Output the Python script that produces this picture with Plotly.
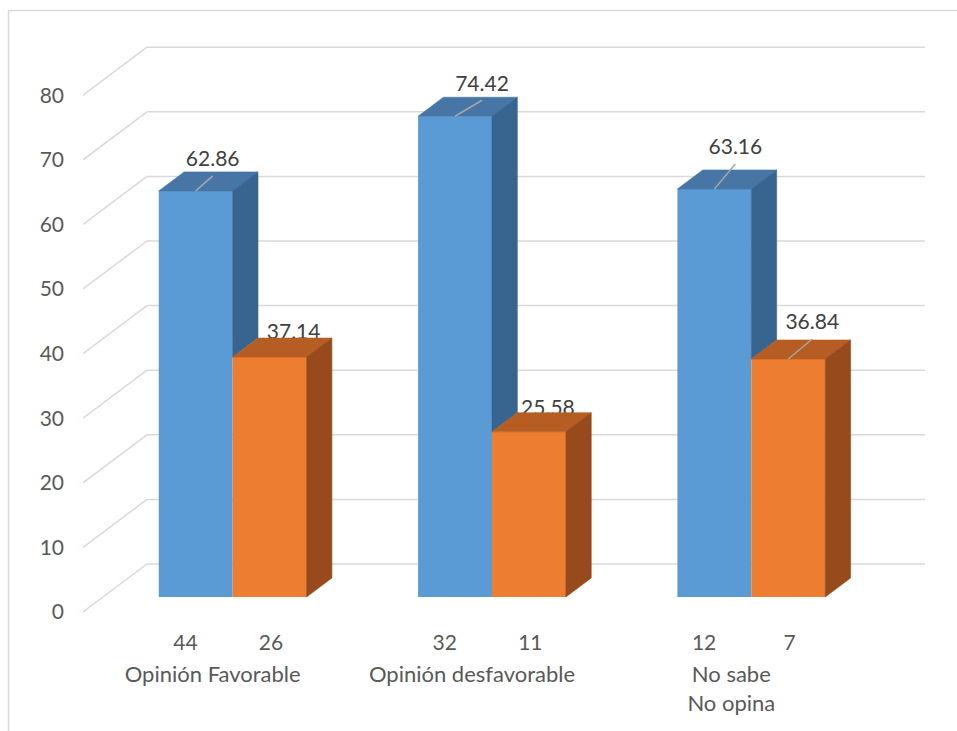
import plotly.graph_objects as go

# ---- data -------------------------------------------------------------
categories = ["Opinión Favorable", "Opinión desfavorable", "No sabe<br>No opina"]
pct_blue = [62.86, 74.42, 63.16]
pct_orange = [37.14, 25.58, 36.84]
count_blue = [44, 32, 12]
count_orange = [26, 11, 7]
y_ticks = [0, 10, 20, 30, 40, 50, 60, 70, 80]

# ---- canvas / oblique projection settings ------------------------------
W, H = 957, 731
ML, MB = 83, 111                 # left / bottom margins (px)
PX_PER_CAT = 259.33              # px per category slot
PX_PER_VAL = 6.46                # px per value unit
ZERO_PX = 612                    # pixel row of value 0 on the front plane
X_LEFT = -0.5                    # x value at the left edge of the plot area
X_RANGE = [X_LEFT, X_LEFT + (W - ML) / PX_PER_CAT]
Y_RANGE = [-(H - MB - ZERO_PX) / PX_PER_VAL, ZERO_PX / PX_PER_VAL]

KX = 1.333 / PX_PER_CAT          # x shift per unit of depth
KY = 1.0 / PX_PER_VAL            # y shift per unit of depth
D_FRONT, D_BACK, D_WALL = 15, 34, 48
BAR_W = 0.285

BLUE = dict(front="#5B9BD5", top="#4675A6", side="#38658F")
ORANGE = dict(front="#ED7D31", top="#B55D22", side="#974A1C")
GRID = "#D9D9D9"
AXIS_TXT = "#595959"
LABEL_TXT = "#404040"
FONT = "Lato"

# label placement (px right / px up from the top-front edge centre)
LABEL_SHIFT_BLUE = [(17, 30), (27, 31), (21, 40)]
LABEL_SHIFT_ORANGE = [(24, 23), (19, 22), (24, 35)]
LEADER_GAP = 15                  # px between label centre and leader end


def proj(xw, v, d):
    return xw + d * KX, v + d * KY


fig = go.Figure()

# front faces of the columns
for vals, col, side in ((pct_blue, BLUE, -1), (pct_orange, ORANGE, 1)):
    xs = [i + side * BAR_W / 2 + D_FRONT * KX for i in range(len(vals))]
    fig.add_trace(go.Bar(
        x=xs, y=vals, base=D_FRONT * KY, width=BAR_W,
        marker=dict(color=col["front"], line=dict(width=0)),
        hoverinfo="skip", showlegend=False,
    ))

# data labels (drawn before the 3D faces so the tops may overlap them)
label_pts = []
for vals, shifts, side in ((pct_blue, LABEL_SHIFT_BLUE, -1),
                           (pct_orange, LABEL_SHIFT_ORANGE, 1)):
    for i, v in enumerate(vals):
        cx, cy = proj(i + side * BAR_W / 2, v, D_FRONT)
        sx, sy = shifts[i]
        lx, ly = cx + sx / PX_PER_CAT, cy + sy / PX_PER_VAL
        label_pts.append((cx, cy, lx, ly, sy, f"{v:.2f}"))

fig.add_trace(go.Scatter(
    x=[p[2] for p in label_pts], y=[p[3] for p in label_pts],
    text=[p[5] for p in label_pts], mode="text", textposition="middle center",
    textfont=dict(family=FONT, size=21, color=LABEL_TXT),
    hoverinfo="skip", showlegend=False,
))


def poly(pts, color):
    xs = [p[0] for p in pts] + [pts[0][0]]
    ys = [p[1] for p in pts] + [pts[0][1]]
    fig.add_trace(go.Scatter(
        x=xs, y=ys, mode="lines", fill="toself", fillcolor=color,
        line=dict(color=color, width=0.6), hoverinfo="skip", showlegend=False,
    ))


# top and side faces
for i in range(len(categories)):
    pairs = ((pct_blue[i], BLUE, -BAR_W), (pct_orange[i], ORANGE, 0.0))
    for k, (v, col, x0) in enumerate(pairs):
        xl = i + x0
        xr = xl + BAR_W
        # top face
        poly([proj(xl, v, D_FRONT), proj(xr, v, D_FRONT),
              proj(xr, v, D_BACK), proj(xl, v, D_BACK)], col["top"])
        # right side face (the part hidden by the neighbouring column is cut)
        bottom = 0.0 if k == 1 else min(pct_orange[i], v)
        poly([proj(xr, v, D_FRONT), proj(xr, v, D_BACK),
              proj(xr, bottom, D_BACK), proj(xr, bottom, D_FRONT)], col["side"])

# leader lines
for cx, cy, lx, ly, sy, _ in label_pts:
    if sy >= 28:
        fig.add_trace(go.Scatter(
            x=[cx, lx], y=[cy, ly - LEADER_GAP / PX_PER_VAL], mode="lines",
            line=dict(color="#A6A6A6", width=1.5),
            hoverinfo="skip", showlegend=False,
        ))

# invisible anchor so the category-name axis is drawn
fig.add_trace(go.Scatter(
    x=list(range(len(categories))), y=[0] * len(categories), xaxis="x2",
    mode="markers", marker=dict(opacity=0), hoverinfo="skip", showlegend=False,
))

# back wall gridlines + left wall diagonals
shapes = []
x_wall_l, _ = proj(X_LEFT, 0, D_WALL)
x_wall_r, _ = proj(X_LEFT + len(categories), 0, D_WALL)
for t in y_ticks:
    _, yw = proj(0, t, D_WALL)
    shapes.append(dict(type="line", xref="x", yref="y", layer="below",
                       x0=X_LEFT, y0=t, x1=x_wall_l, y1=yw,
                       line=dict(color=GRID, width=1.5)))
    shapes.append(dict(type="line", xref="x", yref="y", layer="below",
                       x0=x_wall_l, y0=yw, x1=x_wall_r, y1=yw,
                       line=dict(color=GRID, width=1.5)))

# chart frame
plot_w, plot_h = W - ML, H - MB
shapes.append(dict(type="rect", xref="paper", yref="paper", layer="below",
                   x0=(8.5 - ML) / plot_w, x1=(W + 10 - ML) / plot_w,
                   y0=-(MB + 20) / plot_h, y1=(plot_h - 10.5) / plot_h,
                   line=dict(color=GRID, width=1.5), fillcolor="rgba(0,0,0,0)"))

count_ticks = []
count_text = []
for i in range(len(categories)):
    count_ticks += [i - 0.105, i + 0.225]
    count_text += [str(count_blue[i]), str(count_orange[i])]

fig.update_layout(
    width=W, height=H, autosize=False,
    margin=dict(l=ML, r=0, t=0, b=MB, pad=0),
    paper_bgcolor="white", plot_bgcolor="white",
    barmode="overlay", showlegend=False,
    shapes=shapes,
    font=dict(family=FONT, size=21, color=AXIS_TXT),
    xaxis=dict(range=X_RANGE, tickvals=count_ticks, ticktext=count_text,
               showgrid=False, zeroline=False, showline=False, ticks="",
               tickfont=dict(family=FONT, size=21, color=AXIS_TXT),
               ticklabelstandoff=8, fixedrange=True),
    xaxis2=dict(range=X_RANGE, overlaying="x", anchor="y", side="bottom",
                tickvals=list(range(len(categories))), ticktext=categories,
                showgrid=False, zeroline=False, showline=False, ticks="",
                tickfont=dict(family=FONT, size=22, color=AXIS_TXT),
                ticklabelstandoff=39, fixedrange=True),
    yaxis=dict(range=Y_RANGE, tickvals=y_ticks, showgrid=False,
               zeroline=False, showline=False, ticks="",
               tickfont=dict(family=FONT, size=21, color=AXIS_TXT),
               ticklabelstandoff=18, fixedrange=True),
)

fig.write_html("out.html", config=dict(displayModeBar=False))
